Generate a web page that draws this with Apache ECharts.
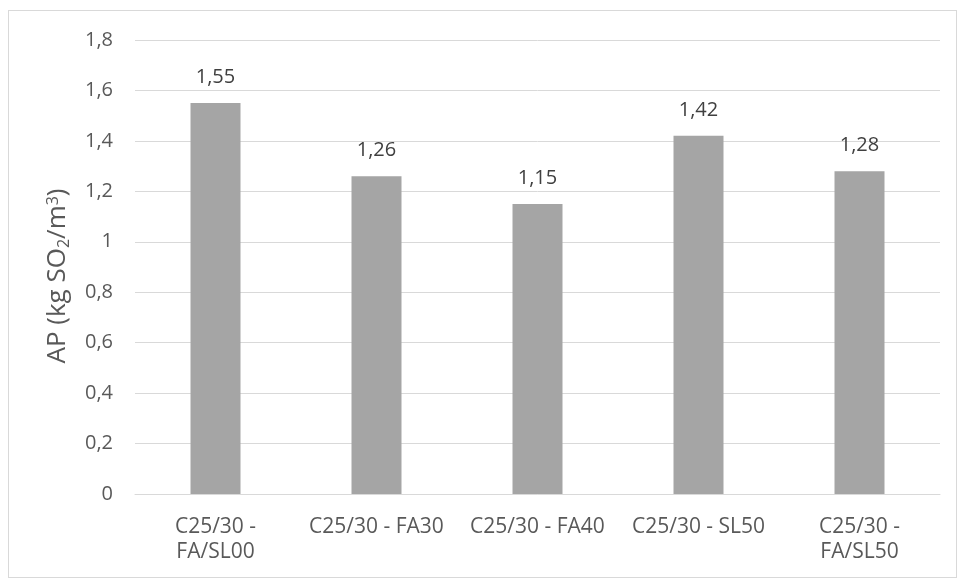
<!DOCTYPE html>
<html>
<head>
<meta charset="utf-8">
<script src="https://cdn.jsdelivr.net/npm/echarts@6/dist/echarts.min.js"></script>
<style>
  html, body { margin: 0; padding: 0; background: #fff; }
  #frame { position: absolute; left: 8px; top: 10px; width: 949px; height: 568px; border: 1px solid #d9d9d9; box-sizing: border-box; }
  #chart { width: 959px; height: 580px; }
</style>
</head>
<body>
<div id="frame"></div>
<div id="chart"></div>
<script>
// Acidification potential per concrete mix
const categories = ['C25/30 -\nFA/SL00', 'C25/30 - FA30', 'C25/30 - FA40', 'C25/30 - SL50', 'C25/30 -\nFA/SL50'];
const apValues = [1.55, 1.26, 1.15, 1.42, 1.28];
const yTicks = [0, 0.2, 0.4, 0.6, 0.8, 1, 1.2, 1.4, 1.6, 1.8];

const fmt = v => String(Math.round(v * 100) / 100).replace('.', ',');
const fontFamily = '"Open Sans", "Noto Sans", sans-serif';
const textColor = '#595959';

const chart = echarts.init(document.getElementById('chart'), null, { renderer: 'canvas' });
chart.setOption({
  animation: false,
  grid: { left: 135, right: 19, top: 40, bottom: 86 },
  xAxis: {
    type: 'category',
    data: categories,
    axisLine: { lineStyle: { color: '#d9d9d9', width: 1 } },
    axisTick: { show: false },
    axisLabel: { color: textColor, fontSize: 21, fontFamily, lineHeight: 25, margin: 21, interval: 0 }
  },
  yAxis: {
    type: 'value',
    min: yTicks[0],
    max: yTicks[yTicks.length - 1],
    interval: 0.2,
    name: '{n|AP (kg SO}{sub|2}{n|/m}{sup|3}{n|)}',
    nameLocation: 'middle',
    nameGap: 26,
    nameRotate: 90,
    nameTextStyle: {
      color: textColor,
      fontFamily,
      padding: [0, 18, 0, 0],
      rich: {
        n: { fontSize: 26, fontFamily, color: textColor, lineHeight: 32, verticalAlign: 'middle' },
        sub: { fontSize: 16, fontFamily, color: textColor, lineHeight: 32, verticalAlign: 'bottom', padding: [0, 0, 2, 0] },
        sup: { fontSize: 16, fontFamily, color: textColor, lineHeight: 32, verticalAlign: 'top', padding: [3, 0, 0, 0] }
      }
    },
    axisLine: { show: false },
    axisTick: { show: false },
    splitLine: { lineStyle: { color: '#d9d9d9', width: 1 } },
    axisLabel: { color: textColor, fontSize: 20, fontFamily, margin: 22, formatter: fmt }
  },
  series: [{
    type: 'bar',
    data: apValues,
    barWidth: 50,
    itemStyle: { color: '#a5a5a5' },
    label: { show: true, position: 'top', distance: 16, color: '#404040', fontSize: 20, fontFamily, formatter: p => fmt(p.value) }
  }]
});
</script>
</body>
</html>
